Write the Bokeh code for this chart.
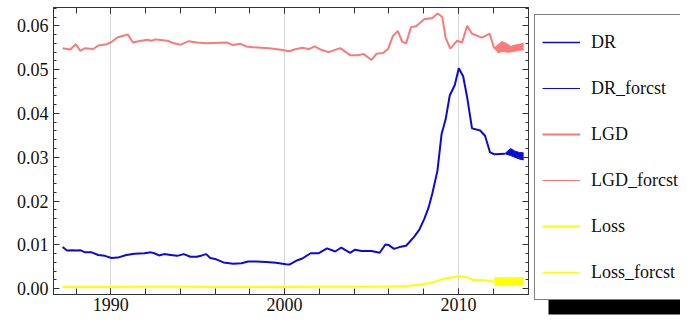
from bokeh.plotting import figure
from bokeh.layouts import row
from bokeh.models import (Range1d, LinearAxis, FixedTicker, PrintfTickFormatter,
                          CustomJSTickFormatter, Legend, LegendItem, BoxAnnotation)
from bokeh.embed import file_html
from bokeh.resources import INLINE

# ---------------- data ----------------
DR_year = [1987.23, 1987.48, 1987.77, 1988.05, 1988.24, 1988.52, 1988.90, 1989.28, 1989.66,
           1990.04, 1990.40, 1990.90, 1991.36, 1991.93, 1992.31, 1992.50, 1992.78, 1993.07,
           1993.45, 1993.82, 1994.20, 1994.58, 1994.96, 1995.24, 1995.49, 1995.72, 1996.00,
           1996.48, 1997.05, 1997.52, 1997.90, 1998.37, 1998.94, 1999.50, 2000.07, 2000.27,
           2000.74, 2001.02, 2001.50, 2001.97, 2002.44, 2002.91, 2003.26, 2003.77, 2004.05,
           2004.43, 2005.00, 2005.47, 2005.80, 2005.98, 2006.29, 2006.61, 2006.99, 2007.46,
           2007.75, 2008.03, 2008.28, 2008.50, 2008.79, 2009.03, 2009.26, 2009.50, 2009.79,
           2010.02, 2010.27, 2010.50, 2010.78, 2011.25, 2011.53, 2011.82, 2012.07, 2012.67]
DR = [0.0095, 0.0087, 0.0088, 0.0087, 0.0088, 0.0083, 0.0083, 0.0077, 0.0075,
      0.0070, 0.0071, 0.0077, 0.0080, 0.0081, 0.0083, 0.0081, 0.0076, 0.0079,
      0.0077, 0.0075, 0.0079, 0.0073, 0.0073, 0.0076, 0.0079, 0.0070, 0.0068,
      0.0060, 0.0057, 0.0058, 0.0062, 0.0062, 0.0061, 0.0059, 0.0056, 0.0055,
      0.0065, 0.0069, 0.0081, 0.0081, 0.0092, 0.0085, 0.0094, 0.0082, 0.0089,
      0.0086, 0.0086, 0.0082, 0.0101, 0.0100, 0.0091, 0.0095, 0.0098, 0.0119,
      0.0135, 0.0159, 0.0185, 0.0218, 0.0269, 0.0353, 0.0386, 0.0441, 0.0465,
      0.0503, 0.0485, 0.0437, 0.0366, 0.0361, 0.0349, 0.0311, 0.0307, 0.0308]

DR_fc_year = [2012.67, 2012.85, 2013.00, 2013.25, 2013.50, 2013.75]
DR_fc_high = [0.0308, 0.0315, 0.0320, 0.0314, 0.0311, 0.0310]
DR_fc_low = [0.0308, 0.0306, 0.0304, 0.0300, 0.0296, 0.0294]

LGD_year = [1987.23, 1987.67, 1987.99, 1988.24, 1988.52, 1988.99, 1989.28, 1989.76, 1990.04,
            1990.41, 1990.98, 1991.27, 1991.74, 1992.12, 1992.31, 1992.60, 1993.26, 1993.64,
            1994.02, 1994.49, 1994.96, 1995.53, 1996.66, 1997.05, 1997.43, 1997.80, 1998.18,
            1998.65, 1999.13, 1999.89, 2000.27, 2000.55, 2001.02, 2001.40, 2001.72, 2002.06,
            2002.54, 2002.82, 2003.20, 2003.77, 2004.24, 2004.53, 2005.00, 2005.28, 2005.66,
            2005.95, 2006.23, 2006.52, 2006.76, 2006.99, 2007.27, 2007.56, 2008.03, 2008.50,
            2008.80, 2009.07, 2009.26, 2009.53, 2009.93, 2010.21, 2010.50, 2010.78, 2011.35,
            2011.80, 2012.05]
LGD = [0.0549, 0.0546, 0.0558, 0.0543, 0.0549, 0.0547, 0.0555, 0.0558, 0.0563,
       0.0574, 0.0580, 0.0562, 0.0566, 0.0568, 0.0566, 0.0569, 0.0566, 0.0560,
       0.0557, 0.0565, 0.0562, 0.0560, 0.0562, 0.0556, 0.0559, 0.0553, 0.0551,
       0.0550, 0.0549, 0.0545, 0.0542, 0.0546, 0.0550, 0.0547, 0.0553, 0.0546,
       0.0540, 0.0544, 0.0549, 0.0533, 0.0533, 0.0536, 0.0522, 0.0536, 0.0538,
       0.0547, 0.0577, 0.0588, 0.0564, 0.0560, 0.0597, 0.0599, 0.0615, 0.0618,
       0.0628, 0.0620, 0.0573, 0.0548, 0.0566, 0.0562, 0.0600, 0.0582, 0.0573,
       0.0582, 0.0549]

LGD_fc_year = [2012.05, 2012.30, 2012.50, 2012.75, 2013.00, 2013.25, 2013.50, 2013.75]
LGD_fc_high = [0.0549, 0.0558, 0.0564, 0.0560, 0.0553, 0.0556, 0.0558, 0.0560]
LGD_fc_low = [0.0549, 0.0538, 0.0542, 0.0540, 0.0540, 0.0542, 0.0544, 0.0545]

Loss_year = [1987.23, 1990.00, 1992.00, 1994.00, 1996.00, 1998.00, 2000.00, 2002.00, 2004.00,
             2006.00, 2007.00, 2007.75, 2008.50, 2009.07, 2009.64, 2010.02, 2010.50, 2010.87,
             2011.44, 2012.05]
Loss = [0.00040, 0.00040, 0.00045, 0.00045, 0.00040, 0.00040, 0.00040, 0.00045, 0.00045,
        0.00050, 0.00060, 0.00090, 0.00140, 0.00220, 0.00260, 0.00290, 0.00260, 0.00200,
        0.00200, 0.00160]

Loss_fc_year = [2012.07, 2013.75]
Loss_fc_high = [0.0025, 0.0025]
Loss_fc_low = [0.0007, 0.0007]

x_major = [1990, 2000, 2010]
x_minor = [1988, 1990, 1992, 1994, 1996, 1998, 2000, 2002, 2004, 2006, 2008, 2010, 2012]
y_major = [0.00, 0.01, 0.02, 0.03, 0.04, 0.05, 0.06]
y_minor = [i * 0.002 for i in range(0, 33)]

series_names = ["DR", "DR_forcst", "LGD", "LGD_forcst", "Loss", "Loss_forcst"]

# ---------------- styling ----------------
BLUE = "#0b0bd8"
RED = "#fa7a7a"
YELLOW = "#ffff00"
FONT = "Times New Roman"
FS = "18px"
AX = "#333333"

p = figure(width=533, height=317, output_backend="svg", toolbar_location=None,
           x_range=Range1d(1986.705, 2014.03), y_range=Range1d(-0.00132, 0.06418),
           min_border_left=53, min_border_right=5, min_border_top=7,
           min_border_bottom=23)
p.background_fill_color = "white"
p.border_fill_color = "white"
p.outline_line_color = AX

xt = FixedTicker(ticks=x_major, minor_ticks=x_minor)
yt = FixedTicker(ticks=y_major, minor_ticks=y_minor)

p.xgrid.ticker = FixedTicker(ticks=x_major)
p.xgrid.grid_line_color = "#d9d9d9"
p.ygrid.visible = False


def style(ax, ticker, minor_len):
    ax.ticker = ticker
    ax.axis_line_color = AX
    ax.major_tick_line_color = AX
    ax.minor_tick_line_color = AX
    ax.major_tick_in = 6
    ax.major_tick_out = 0
    ax.minor_tick_in = minor_len
    ax.minor_tick_out = 0
    ax.major_label_text_color = "#111111"
    ax.major_label_text_font = FONT
    ax.major_label_text_font_size = FS


bottom_ax = p.xaxis[0]
left_ax = p.yaxis[0]
style(bottom_ax, xt, 6)
bottom_ax.formatter = PrintfTickFormatter(format="%d")
bottom_ax.major_label_standoff = 3
style(left_ax, yt, 3)
left_ax.formatter = PrintfTickFormatter(format="%.2f")
left_ax.major_label_standoff = 5

top_ax = LinearAxis()
style(top_ax, xt, 6)
top_ax.formatter = CustomJSTickFormatter(code="return ''")
top_ax.major_label_standoff = 0
p.add_layout(top_ax, "above")
right_ax = LinearAxis()
style(right_ax, yt, 3)
right_ax.formatter = CustomJSTickFormatter(code="return ''")
right_ax.major_label_standoff = 0
p.add_layout(right_ax, "right")

# ---------------- data glyphs ----------------
p.varea(x=Loss_fc_year, y1=Loss_fc_low, y2=Loss_fc_high, fill_color=YELLOW)
p.line(Loss_year, Loss, line_color=YELLOW, line_width=2)
p.line(Loss_fc_year, Loss_fc_high, line_color=YELLOW, line_width=1)

p.varea(x=LGD_fc_year, y1=LGD_fc_low, y2=LGD_fc_high, fill_color=RED)
p.line(LGD_year, LGD, line_color=RED, line_width=2)
p.line(LGD_fc_year, LGD_fc_high, line_color=RED, line_width=1)
p.line(LGD_fc_year, LGD_fc_low, line_color=RED, line_width=1)

p.varea(x=DR_fc_year, y1=DR_fc_low, y2=DR_fc_high, fill_color=BLUE)
p.line(DR_year, DR, line_color=BLUE, line_width=2)
p.line(DR_fc_year, DR_fc_high, line_color=BLUE, line_width=1)
p.line(DR_fc_year, DR_fc_low, line_color=BLUE, line_width=1)

# make sure every y axis carries the serif face
p.yaxis.major_label_text_font = FONT
p.xaxis.major_label_text_font = FONT

# ---------------- legend panel (right of the plot) ----------------
# the series are drawn again here (out of this panel's view) only to feed the legend
q = figure(width=147, height=317, output_backend="svg", toolbar_location=None,
           x_axis_type=None, y_axis_type=None, min_border=0,
           x_range=Range1d(0, 1), y_range=Range1d(0, 1))
q.frame_align = False
q.outline_line_color = None
q.background_fill_color = "white"
q.border_fill_color = "white"
q.grid.visible = False

legend_src = [(DR_year, DR, BLUE, 1.6), (DR_fc_year, DR_fc_high, BLUE, 1),
              (LGD_year, LGD, RED, 2), (LGD_fc_year, LGD_fc_high, RED, 1),
              (Loss_year, Loss, YELLOW, 2), (Loss_fc_year, Loss_fc_high, YELLOW, 1)]
items = []
for name, (xs, ys, c, w) in zip(series_names, legend_src):
    r = q.line(x=xs, y=ys, line_color=c, line_width=w)
    items.append(LegendItem(label=name, renderers=[r]))

# drop shadow of the legend box (legend spans canvas y 16..300)
shadow = BoxAnnotation(left=15, right=400, top=30, bottom=314,
                       left_units="canvas", right_units="canvas",
                       top_units="canvas", bottom_units="canvas",
                       fill_color="black", fill_alpha=1.0, line_color=None)
q.add_layout(shadow)

legend = Legend(items=items, location=(1, 17))
legend.border_line_color = "black"
legend.border_line_width = 1
legend.background_fill_color = "white"
legend.background_fill_alpha = 1.0
legend.padding = 7
legend.spacing = 6
legend.margin = 0
legend.glyph_width = 38
legend.glyph_height = 40
legend.label_height = 40
legend.label_width = 120
legend.label_standoff = 11
legend.label_text_font = FONT
legend.label_text_font_size = FS
legend.label_text_color = "#111111"
q.add_layout(legend)

layout = row(p, q, spacing=0)
open("out.html", "w").write(file_html(layout, INLINE))
